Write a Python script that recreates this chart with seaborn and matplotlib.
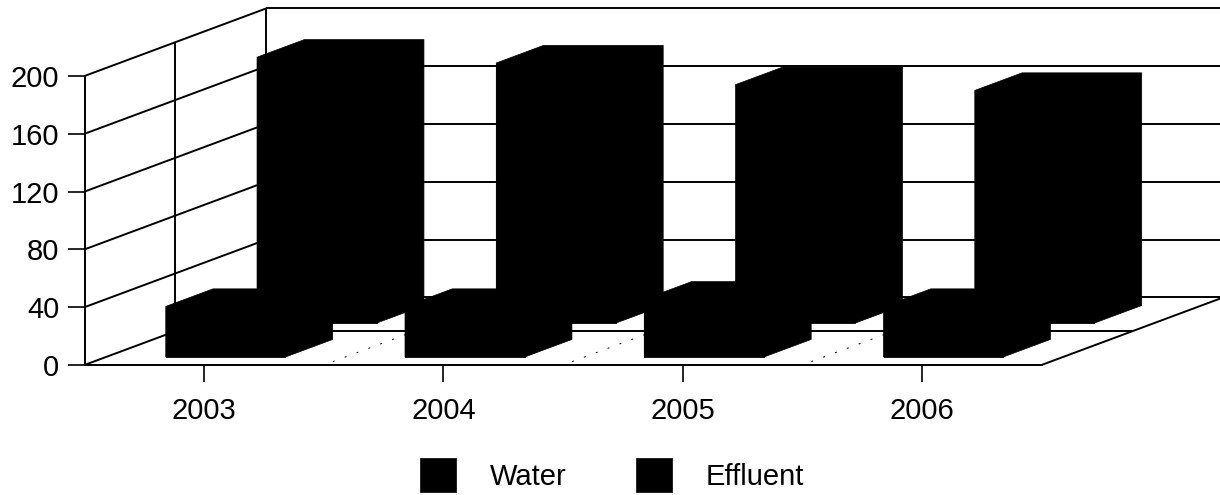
import matplotlib

matplotlib.use("Agg")
import matplotlib.pyplot as plt
import pandas as pd
import seaborn as sns

WIDTH = 1220
HEIGHT = 495

years = ["2003", "2004", "2005", "2006"]
water = [35, 35, 40, 35]
effluent = [184, 180, 165, 161]
y_ticks = [0, 40, 80, 120, 160, 200]

# oblique projection: how far one full unit of depth moves things (data units)
DEPTH_X = 0.76
DEPTH_Y = 46.8
BAR_WIDTH = 0.5
# where each series sits on the floor, front and back as fraction of depth
SLOTS = {"Water": (0.118, 0.378), "Effluent": (0.62, 0.88)}

LINE = {"color": "black", "linewidth": 1.4, "clip_on": False, "solid_capstyle": "butt"}


def project(x, y, depth):
    return x + DEPTH_X * depth, y + DEPTH_Y * depth


def draw_walls(ax):
    left, right = -0.5, 3.5

    for value in y_ticks:
        # left wall, then back wall
        x0, y0 = project(left, value, 0)
        x1, y1 = project(left, value, 1)
        x2, y2 = project(right, value, 1)
        ax.plot([x0, x1], [y0, y1], zorder=1, **LINE)
        ax.plot([x1, x2], [y1, y2], zorder=1, **LINE)

    for depth in [0.5, 1]:
        x0, y0 = project(left, 0, depth)
        x1, y1 = project(left, 200, depth)
        ax.plot([x0, x1], [y0, y1], zorder=1, **LINE)

    # floor
    x0, y0 = project(left, 0, 0.5)
    x1, y1 = project(right, 0, 0.5)
    ax.plot([x0, x1], [y0, y1], zorder=1, **LINE)
    x0, y0 = project(right, 0, 0)
    x1, y1 = project(right, 0, 1)
    ax.plot([x0, x1], [y0, y1], zorder=1, **LINE)

    for boundary in [0.5, 1.5, 2.5]:
        x0, y0 = project(boundary, 0, 0.05)
        x1, y1 = project(boundary, 0, 1)
        ax.plot(
            [x0, x1],
            [y0, y1],
            color="black",
            linewidth=0.7,
            linestyle=(0, (2, 11)),
            clip_on=False,
            zorder=1,
        )


def make_3d(ax, bar, front, back):
    # push the flat seaborn bar back on the floor and give it a top and a side
    x, top = bar.get_x(), bar.get_height()
    w = bar.get_width()
    d = back - front

    fx, fy = project(x, 0, front)
    bar.set_x(fx)
    bar.set_y(fy)
    bar.set_clip_on(False)
    bar.set_zorder(3)

    dx, dy = DEPTH_X * d, DEPTH_Y * d
    outline = [
        (fx, fy + top),
        (fx + dx, fy + top + dy),
        (fx + w + dx, fy + top + dy),
        (fx + w + dx, fy + dy),
        (fx + w, fy),
        (fx, fy),
    ]
    xs, ys = zip(*outline)
    ax.fill(xs, ys, color="black", linewidth=0.5, clip_on=False, zorder=3)


def create_figure():
    sns.set_theme(style="white")
    plt.rcParams["font.family"] = ["Liberation Sans", "DejaVu Sans"]

    df = pd.DataFrame({"year": years, "Water": water, "Effluent": effluent})
    df = df.melt(id_vars="year", var_name="series", value_name="value")

    fig = plt.figure(figsize=(WIDTH / 100, HEIGHT / 100), dpi=100, facecolor="white")
    ax = fig.add_axes(
        [84.5 / WIDTH, (HEIGHT - 365) / HEIGHT, 957 / WIDTH, 289 / HEIGHT],
        facecolor="none",
    )

    sns.barplot(
        data=df,
        x="year",
        y="value",
        hue="series",
        hue_order=["Water", "Effluent"],
        palette=["black", "black"],
        dodge=False,
        width=BAR_WIDTH,
        errorbar=None,
        edgecolor="black",
        linewidth=0.5,
        ax=ax,
    )

    for container, name in zip(ax.containers, ["Water", "Effluent"]):
        front, back = SLOTS[name]
        for bar in container:
            make_3d(ax, bar, front, back)
    ax.set_xlim(-0.5, 3.5)
    ax.set_ylim(0, 200)

    draw_walls(ax)

    ax.set_xlabel("")
    ax.set_ylabel("")
    ax.set_yticks(y_ticks)
    ax.tick_params(
        axis="both",
        which="major",
        left=True,
        bottom=True,
        direction="out",
        length=12,
        width=1.2,
        color="black",
        labelsize=21,
        labelcolor="black",
    )
    ax.tick_params(axis="y", pad=6)
    ax.tick_params(axis="x", pad=11)

    ax.spines["top"].set_visible(False)
    ax.spines["right"].set_visible(False)
    for side in ["left", "bottom"]:
        ax.spines[side].set_color("black")
        ax.spines[side].set_linewidth(1.4)
        ax.spines[side].set_zorder(2)

    sns.move_legend(
        ax,
        loc="center left",
        bbox_to_anchor=(420 / WIDTH, (HEIGHT - 475) / HEIGHT),
        bbox_transform=fig.transFigure,
        ncol=2,
        title=None,
        frameon=False,
        fontsize=21,
        labelcolor="black",
        borderpad=0,
        borderaxespad=0,
        handlelength=1.23,
        handleheight=1.45,
        handletextpad=1.15,
        columnspacing=2.4,
    )

    fig.savefig("out.png", dpi=100)


if __name__ == "__main__":
    create_figure()
